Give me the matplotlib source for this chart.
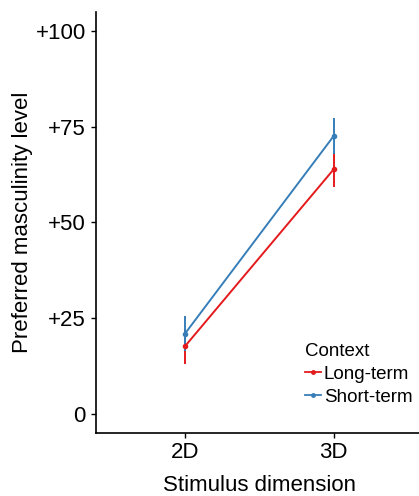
import matplotlib
matplotlib.use("Agg")
import matplotlib.pyplot as plt
from matplotlib.lines import Line2D
import numpy as np

plt.rcParams['font.family'] = ['Liberation Sans', 'DejaVu Sans']

dimensions = ['2D', '3D']
contexts = ['Long-term', 'Short-term']
long_term = [17.6, 63.9]
long_term_err = [4.5, 4.6]
short_term = [20.9, 72.6]
short_term_err = [4.6, 4.6]
colors = ['#E41A1C', '#377EB8']

yticks = [0, 25, 50, 75, 100]
ytick_labels = ['0', '+25', '+50', '+75', '+100']

fig = plt.figure(figsize=(4.19, 4.96), dpi=100)
ax = fig.add_axes([0.2284, 0.1276, 1.0095 - 0.2284, 0.9756 - 0.1276])

x = np.arange(1, len(dimensions) + 1)
handles = []
for vals, errs, col, lab in zip([long_term, short_term], [long_term_err, short_term_err], colors, contexts):
    ax.errorbar(x, vals, yerr=errs, color=col, lw=1.4, elinewidth=1.4, capsize=0,
                marker='o', ms=3)
    handles.append(Line2D([], [], color=col, lw=1.3, marker='o', ms=2.5, label=lab))

ax.set_xlim(0.4, 2.6)
ax.set_ylim(-5, 105)
ax.set_xticks(x, dimensions)
ax.set_yticks(yticks, ytick_labels)
for s in ['top', 'right']:
    ax.spines[s].set_visible(False)
for s in ['left', 'bottom']:
    ax.spines[s].set_linewidth(1.2)
ax.tick_params(length=3.5, width=1, labelsize=16, colors='black', pad=3.5)
ax.set_xlabel('Stimulus dimension', fontsize=16, labelpad=8)
ax.set_ylabel('Preferred masculinity level', fontsize=16, labelpad=2)

leg = ax.legend(handles=handles, title='Context', loc='upper left',
                bbox_to_anchor=(305 / 419, 1 - 343 / 496),
                bbox_transform=fig.transFigure, frameon=False, fontsize=13.5, title_fontsize=13.5,
                handlelength=0.85, handletextpad=0.15, labelspacing=0.3, borderaxespad=0,
                borderpad=0)
leg._legend_box.align = 'left'

fig.savefig('out.png', dpi=100)
